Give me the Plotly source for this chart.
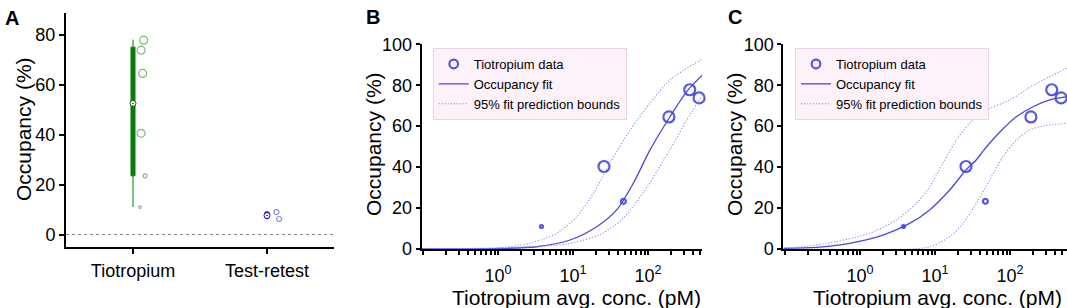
import plotly.graph_objects as go

W, H = 1067, 308

# ---------------- data ----------------
# Panel A
a_categories = ["Tiotropium", "Test-retest"]
tio_occupancy = [11.0, 40.5, 23.5, 64.5, 77.8, 73.8]
tio_box = dict(lowerfence=11.0, q1=23.5, median=52.5, q3=75.0, upperfence=78.0)
tr_occupancy = [9.0, 8.5, 7.0, 6.2]
tr_box = dict(lowerfence=6.2, q1=7.4, median=7.6, q3=9.0, upperfence=9.0)

# Panels B and C
conc_pM = [3.8, 25.9, 47.0, 190.0, 360.0, 480.0]
occupancy_pct = [11.0, 40.3, 23.3, 64.5, 77.8, 73.8]

# Panel B curves (log10 conc, occupancy %)
fitB_logc = [-1.02, 0.07, 0.516, 0.96, 1.316, 1.582, 1.804, 2.027, 2.293, 2.516, 2.74]
fitB_occ = [0.05, 0.3, 1.1, 4.4, 10.9, 19.1, 32.1, 48.4, 64.6, 76.9, 85.5]
upB_logc = [-1.02, 0.0, 0.427, 0.782, 1.049, 1.271, 1.493, 1.76, 2.027, 2.293, 2.74]
upB_occ = [0.1, 0.5, 2.8, 7.7, 15.8, 27.2, 41.9, 58.1, 71.2, 82.6, 93.1]
loB_logc = [-1.02, 0.25, 0.92, 1.36, 1.67, 2.0, 2.3, 2.5, 2.74]
loB_occ = [0.0, 0.8, 2.5, 7.0, 15.0, 31.0, 49.0, 62.0, 76.0]

# Panel C curves
fitC_logc = [-1.02, -0.582, -0.138, 0.307, 0.662, 0.929, 1.196, 1.41, 1.55, 1.64, 1.862, 2.084, 2.307, 2.53, 2.76]
fitC_occ = [0.3, 0.8, 2.8, 6.8, 12.5, 19.1, 28.8, 38.5, 43.5, 47.8, 57.0, 64.6, 69.5, 72.8, 74.4]
upC_logc = [-1.02, -0.85, -0.316, 0.129, 0.484, 0.751, 0.929, 1.107, 1.284, 1.462, 1.64, 1.996, 2.35, 2.76]
upC_occ = [0.5, 0.8, 3.6, 7.7, 14.2, 22.3, 30.4, 41.9, 53.2, 61.4, 67.1, 72.8, 80.9, 88.3]
loC_logc = [-1.02, 0.66, 0.929, 1.196, 1.373, 1.551, 1.729, 1.907, 2.084, 2.262, 2.44, 2.76]
loC_occ = [0.0, 0.0, 1.1, 6.0, 12.5, 22.3, 33.7, 45.1, 53.2, 58.1, 60.1, 61.4]

major_ticks = [1, 10, 100]
major_labels = ["10<sup>0</sup>", "10<sup>1</sup>", "10<sup>2</sup>"]
y_title = "Occupancy (%)"
x_title = "Tiotropium avg. conc. (pM)"
legend_names = ["Tiotropium data", "Occupancy fit", "95% fit prediction bounds"]

# ---------------- styles ----------------
FONT = "Liberation Sans, Arial, sans-serif"
GREEN_DARK = "#0a7d0a"
GREEN = "#45a045"
BLUE = "#1212d2"
FIT = "#4848dc"
BOUND = "#8c8cf0"

# marker sizes / jitter (styling)
a_sizes = [2.5, 8, 4, 8, 8, 8]
a_jitter = [0.052, 0.06, 0.09, 0.072, 0.08, 0.06]
tr_sizes = [5, 4, 4, 5]
tr_jitter = [0.07, 0.0, 0.0, 0.09]
bc_sizes = [3, 11, 5, 11, 11, 11]

fig = go.Figure()

# ---------------- Panel A ----------------
fig.add_trace(go.Box(
    x=[0], q1=[tio_box["q1"]], median=[tio_box["median"]], q3=[tio_box["q3"]],
    lowerfence=[tio_box["lowerfence"]], upperfence=[tio_box["upperfence"]],
    width=0.03, whiskerwidth=0, fillcolor=GREEN_DARK,
    line=dict(color=GREEN_DARK, width=1), boxpoints=False,
    xaxis="x", yaxis="y", showlegend=False, hoverinfo="skip"))
fig.add_trace(go.Box(
    x=[1], q1=[tr_box["q1"]], median=[tr_box["median"]], q3=[tr_box["q3"]],
    lowerfence=[tr_box["lowerfence"]], upperfence=[tr_box["upperfence"]],
    width=0.03, whiskerwidth=0, fillcolor=BLUE,
    line=dict(color=BLUE, width=1), boxpoints=False,
    xaxis="x", yaxis="y", showlegend=False, hoverinfo="skip"))
fig.add_trace(go.Scatter(
    x=[0 + j for j in a_jitter], y=tio_occupancy, mode="markers",
    marker=dict(symbol="circle-open", size=a_sizes, color=GREEN, line=dict(width=1.2)),
    xaxis="x", yaxis="y", showlegend=False, cliponaxis=False))
fig.add_trace(go.Scatter(
    x=[1 + j for j in tr_jitter], y=tr_occupancy, mode="markers",
    marker=dict(symbol="circle-open", size=tr_sizes, color="#5a5ae6", line=dict(width=1.2)),
    xaxis="x", yaxis="y", showlegend=False, cliponaxis=False))
fig.add_trace(go.Scatter(
    x=[0, 1], y=[tio_box["median"], tr_box["median"]], mode="markers",
    marker=dict(symbol="circle-dot", size=6, color="white",
                line=dict(color=["#0a5a0a", "#10108a"], width=1)),
    xaxis="x", yaxis="y", showlegend=False, cliponaxis=False))

# ---------------- Panels B and C ----------------
DOT = "1.2px,1.8px"


def add_panel(xa, ya, leg, fit_x, fit_y, up_x, up_y, lo_x, lo_y):
    fig.add_trace(go.Scatter(
        x=conc_pM, y=occupancy_pct, mode="markers", name=legend_names[0],
        marker=dict(symbol="circle-open", size=bc_sizes, color=BLUE, line=dict(width=2.2)),
        xaxis=xa, yaxis=ya, legend=leg, cliponaxis=False))
    fig.add_trace(go.Scatter(
        x=[10 ** v for v in fit_x], y=fit_y, mode="lines", name=legend_names[1],
        line=dict(color=FIT, width=1.3, shape="spline", smoothing=0.8),
        xaxis=xa, yaxis=ya, legend=leg))
    fig.add_trace(go.Scatter(
        x=[10 ** v for v in up_x], y=up_y, mode="lines", name=legend_names[2],
        line=dict(color=BOUND, width=1.1, dash=DOT, shape="spline", smoothing=0.8),
        xaxis=xa, yaxis=ya, legend=leg, legendgroup=leg + "b"))
    fig.add_trace(go.Scatter(
        x=[10 ** v for v in lo_x], y=lo_y, mode="lines", name=legend_names[2],
        line=dict(color=BOUND, width=1.1, dash=DOT, shape="spline", smoothing=0.8),
        xaxis=xa, yaxis=ya, legend=leg, legendgroup=leg + "b", showlegend=False))


add_panel("x2", "y2", "legend", fitB_logc, fitB_occ, upB_logc, upB_occ, loB_logc, loB_occ)
add_panel("x3", "y3", "legend2", fitC_logc, fitC_occ, upC_logc, upC_occ, loC_logc, loC_occ)

# ---------------- layout ----------------
def px_x(p):
    return p / W


def px_y(p):
    return 1 - p / H


tickfont = dict(family=FONT, size=18, color="black")
titlefont = dict(family=FONT, size=21, color="black")
axis_common = dict(showline=True, linecolor="black", linewidth=2, ticks="outside",
                   tickcolor="black", tickwidth=2, showgrid=False, zeroline=False,
                   tickfont=tickfont, automargin=False)

# log axis: decade ticks labelled, the 2..9 sub-decade ticks unlabelled
log_tickvals = []
log_ticktext = []
for e in (-1, 0, 1, 2):
    for m in range(1, 10):
        v = m * 10 ** e
        if v < 0.1 or v > 520:
            continue
        log_tickvals.append(v)
        if m == 1 and v in major_ticks:
            log_ticktext.append(major_labels[major_ticks.index(v)])
        else:
            log_ticktext.append("")

log_x = {**axis_common,
         **dict(type="log", tickmode="array", tickvals=log_tickvals, ticktext=log_ticktext,
                ticklen=4, tickwidth=1.5, ticklabelstandoff=5)}

occ_y = {**axis_common, **dict(range=[0, 100], dtick=20, ticklen=4)}


def title_ann(text, x, y, angle=0):
    return dict(text=text, x=px_x(x), y=px_y(y), xref="paper", yref="paper",
                xanchor="center", yanchor="middle", showarrow=False, textangle=angle,
                font=titlefont)


def letter_ann(text, x, y):
    return dict(text="<b>%s</b>" % text, x=px_x(x), y=px_y(y), xref="paper", yref="paper",
                xanchor="left", yanchor="top", showarrow=False,
                font=dict(family=FONT, size=20, color="black"))


legend_common = dict(xanchor="left", yanchor="top", bgcolor="#fdf2fa", bordercolor="#ecd4e6",
                     borderwidth=1, font=dict(family=FONT, size=13, color="black"),
                     tracegroupgap=0)

fig.update_layout(
    width=W, height=H, margin=dict(l=0, r=0, t=0, b=0),
    paper_bgcolor="white", plot_bgcolor="white",
    font=dict(family=FONT, color="black"),
    xaxis=dict(domain=[px_x(66), px_x(334)], range=[-0.5, 1.5], tickmode="array",
               tickvals=[0, 1], ticktext=a_categories, ticklen=5, anchor="y",
               ticklabelstandoff=1, **axis_common),
    yaxis=dict(domain=[px_y(247), px_y(12.7)], range=[-5, 88.8], dtick=20, ticklen=5, anchor="x",
               **axis_common),
    xaxis2=dict(domain=[px_x(421.7), px_x(702)], range=[-1.017, 2.72], anchor="y2", **log_x),
    yaxis2=dict(domain=[px_y(249), px_y(44.3)], anchor="x2", **occ_y),
    xaxis3=dict(domain=[px_x(783.3), 1.0], range=[-1.022, 2.76], anchor="y3", **log_x),
    yaxis3=dict(domain=[px_y(249), px_y(44.3)], anchor="x3", **occ_y),
    legend=dict(x=px_x(432.7), y=px_y(48), **legend_common),
    legend2=dict(x=px_x(795), y=px_y(48), **legend_common),
    shapes=[dict(type="line", xref="x domain", yref="y", x0=0, x1=1, y0=0, y1=0,
                 line=dict(color="#8a8a8a", width=1, dash="dot"))],
    annotations=[
        letter_ann("A", 3, 5), letter_ann("B", 364, 4), letter_ann("C", 726, 4),
        title_ann(y_title, 24, 129, -90),
        title_ann(y_title, 374, 144, -90),
        title_ann(y_title, 735, 144, -90),
        title_ann(x_title, 576, 297),
        title_ann(x_title, 937, 297),
    ],
)

fig.write_html("out.html", config={"displayModeBar": False},
               post_script="document.body.style.margin='0';")
